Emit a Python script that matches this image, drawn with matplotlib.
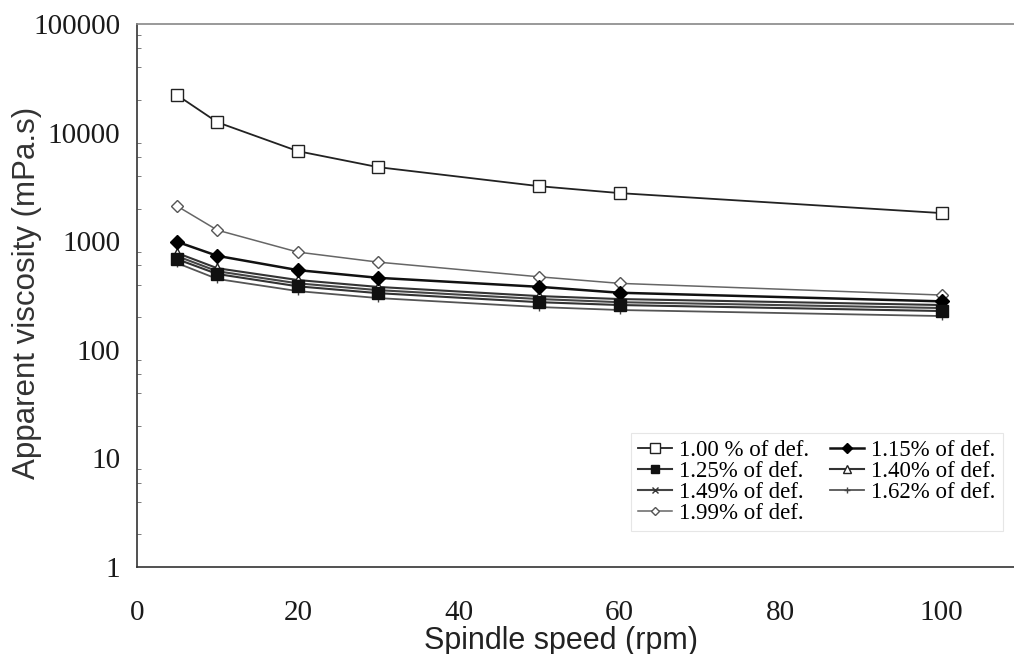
import matplotlib
matplotlib.use("Agg")
import matplotlib.pyplot as plt
from matplotlib.ticker import LogLocator, FixedLocator, NullFormatter

speed = [5, 10, 20, 30, 50, 60, 100]
labels = ["1.00 % of def.", "1.15% of def.", "1.25% of def.", "1.40% of def.",
          "1.49% of def.", "1.62% of def.", "1.99% of def."]
v100 = [22200, 12500, 6770, 4820, 3220, 2780, 1820]
v115 = [990, 735, 543, 461, 381, 336, 280]
v125 = [685, 500, 385, 333, 275, 259, 228]
v140 = [780, 565, 440, 380, 313, 294, 259]
v149 = [730, 530, 410, 355, 294, 275, 243]
v162 = [630, 450, 348, 300, 248, 233, 205]
v199 = [2110, 1268, 796, 643, 471, 410, 320]

series = [v100, v115, v125, v140, v149, v162, v199]
styles = [
    dict(marker='s', mfc='white', mec='#222222', ms=9, color='#222222', lw=1.3),
    dict(marker='D', mfc='black', mec='black', ms=7, color='#111111', lw=1.8),
    dict(marker='s', mfc='#111111', mec='#111111', ms=8, color='#333333', lw=1.5),
    dict(marker='^', mfc='white', mec='#222222', ms=7, color='#333333', lw=1.5),
    dict(marker='x', mfc='none', mec='#333333', ms=5, color='#444444', lw=1.5),
    dict(marker='+', mfc='none', mec='#444444', ms=6, color='#555555', lw=1.3),
    dict(marker='D', mfc='white', mec='#555555', ms=6, color='#666666', lw=1.1),
]

fig = plt.figure(figsize=(10.14, 6.54), dpi=100)
ax = fig.add_axes([0.135, 0.133, 0.865, 0.830])

order = [0, 6, 3, 4, 5, 1, 2]
handles = {}
for i in order:
    h, = ax.plot(speed, series[i], label=labels[i], **styles[i])
    handles[i] = h

ax.set_yscale('log')
ax.set_ylim(1, 100000)
ax.set_xlim(0, 109)
ax.set_xticks([0, 20, 40, 60, 80, 100])
ax.yaxis.set_major_locator(FixedLocator([1, 10, 100, 1000, 10000, 100000]))
ax.set_yticklabels(['1', '10', '100', '1000', '10000', '100000'])
ax.yaxis.set_minor_locator(LogLocator(base=10, subs=[2, 4, 6, 8]))
ax.yaxis.set_minor_formatter(NullFormatter())

for s in ['left', 'bottom', 'top']:
    ax.spines[s].set_color('#333333')
    ax.spines[s].set_linewidth(1.2)
ax.spines['top'].set_color('#888888')
ax.spines['right'].set_visible(False)

ax.tick_params(axis='y', which='major', length=0, pad=12)
ax.tick_params(axis='x', which='major', length=0, pad=24)
ax.tick_params(axis='y', which='minor', length=3, direction='in', color='#666666')
for t in ax.get_xticklabels() + ax.get_yticklabels():
    t.set_fontfamily('Liberation Serif')
    t.set_fontsize(21)
    t.set_color('#1a1a1a')

ax.set_ylabel('Apparent viscosity (mPa.s)', fontsize=22.5, family='Liberation Sans',
              color='#333333')
ax.yaxis.set_label_coords(-0.108, 0.505)
ax.set_xlabel('Spindle speed (rpm)', fontsize=22, family='Liberation Sans',
              color='#222222')
ax.xaxis.set_label_coords(0.483, -0.108)

col_order = [0, 2, 4, 6, 1, 3, 5]
hl = [handles[i] for i in col_order]
ll = [labels[i] for i in col_order]
leg = ax.legend(hl, ll, loc='lower right', bbox_to_anchor=(1.0, 0.045), ncol=2,
                prop={'family': 'Liberation Serif', 'size': 16.5},
                frameon=True, edgecolor='#e0e0e0', fancybox=False,
                handlelength=1.5, handletextpad=0.3, columnspacing=0.9,
                labelspacing=0.0, borderpad=0.3, markerscale=0.75)
leg.get_frame().set_linewidth(0.8)

fig.savefig('out.png', dpi=100, facecolor='white')
